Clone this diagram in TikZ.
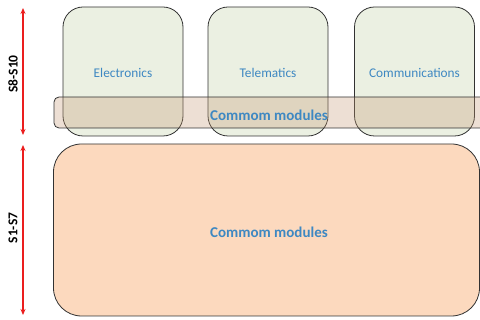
\documentclass[tikz,border=0pt]{standalone}
\usepackage{fontspec}
\setmainfont{Carlito}
\usetikzlibrary{arrows.meta}
\definecolor{modgreen}{RGB}{235,240,226}
\definecolor{modpeach}{RGB}{252,217,190}
\definecolor{bandtan}{RGB}{196,150,112}
\definecolor{labelblue}{RGB}{62,136,194}
\definecolor{edgegrey}{RGB}{50,50,50}
\definecolor{spanred}{RGB}{235,30,30}
\tikzset{
  modbox/.style={draw=edgegrey, line width=0.8pt, fill=modgreen, rounded corners=20pt,
    minimum width=120pt, minimum height=129pt, inner sep=0pt},
  modtext/.style={text=labelblue, font=\fontsize{13.3}{15}\selectfont},
  commontext/.style={text=labelblue, font=\bfseries\fontsize{15}{17}\selectfont},
  bandbox/.style={draw=edgegrey, line width=0.8pt, fill=bandtan, fill opacity=0.3,
    rounded corners=5pt, minimum width=440pt, minimum height=31pt, inner sep=0pt},
  basebox/.style={draw=edgegrey, line width=0.8pt, fill=modpeach, rounded corners=28pt,
    minimum width=426pt, minimum height=172pt, inner sep=0pt},
  spanarrow/.style={draw=spanred, line width=1.2pt, {Stealth[length=6pt,width=5pt]}-{Stealth[length=6pt,width=5pt]}},
  spantext/.style={font=\bfseries\fontsize{13.5}{15}\selectfont, rotate=90}
}
\begin{document}
\begin{tikzpicture}[x=1pt, y=-1pt]
  \useasboundingbox (0,0) rectangle (480,320);
  \clip (0,0) rectangle (480,320);
  % lower layer: shared base modules
  \node[basebox] (base) at (266.5,230) {};
  \node[commontext] (basetxt) at (269,232) {Commom modules};
  % upper layer: domain-specific modules
  \node[modbox] (elec) at (123,71.5) {};
  \node[modbox] (tele) at (268,71.5) {};
  \node[modbox] (comm) at (414.5,71.5) {};
  \node[modtext] (electxt) at (123,73) {Electronics};
  \node[modtext] (teletxt) at (268,73) {Telematics};
  \node[modtext] (commtxt) at (414.5,73) {Communications};
  % translucent common band across the upper layer
  \node[bandbox] (band) at (274,112.5) {};
  \node[commontext] (bandtxt) at (269,115) {Commom modules};
  % semester spans
  \coordinate (uTop) at (23,8);
  \coordinate (uBot) at (23,135);
  \coordinate (lTop) at (23,145);
  \coordinate (lBot) at (23,315);
  \draw[spanarrow] (uTop) -- (uBot);
  \draw[spanarrow] (lTop) -- (lBot);
  \node[spantext] (upper) at (13,74) {S8-S10};
  \node[spantext] (lower) at (13,228) {S1-S7};
\end{tikzpicture}
\end{document}
